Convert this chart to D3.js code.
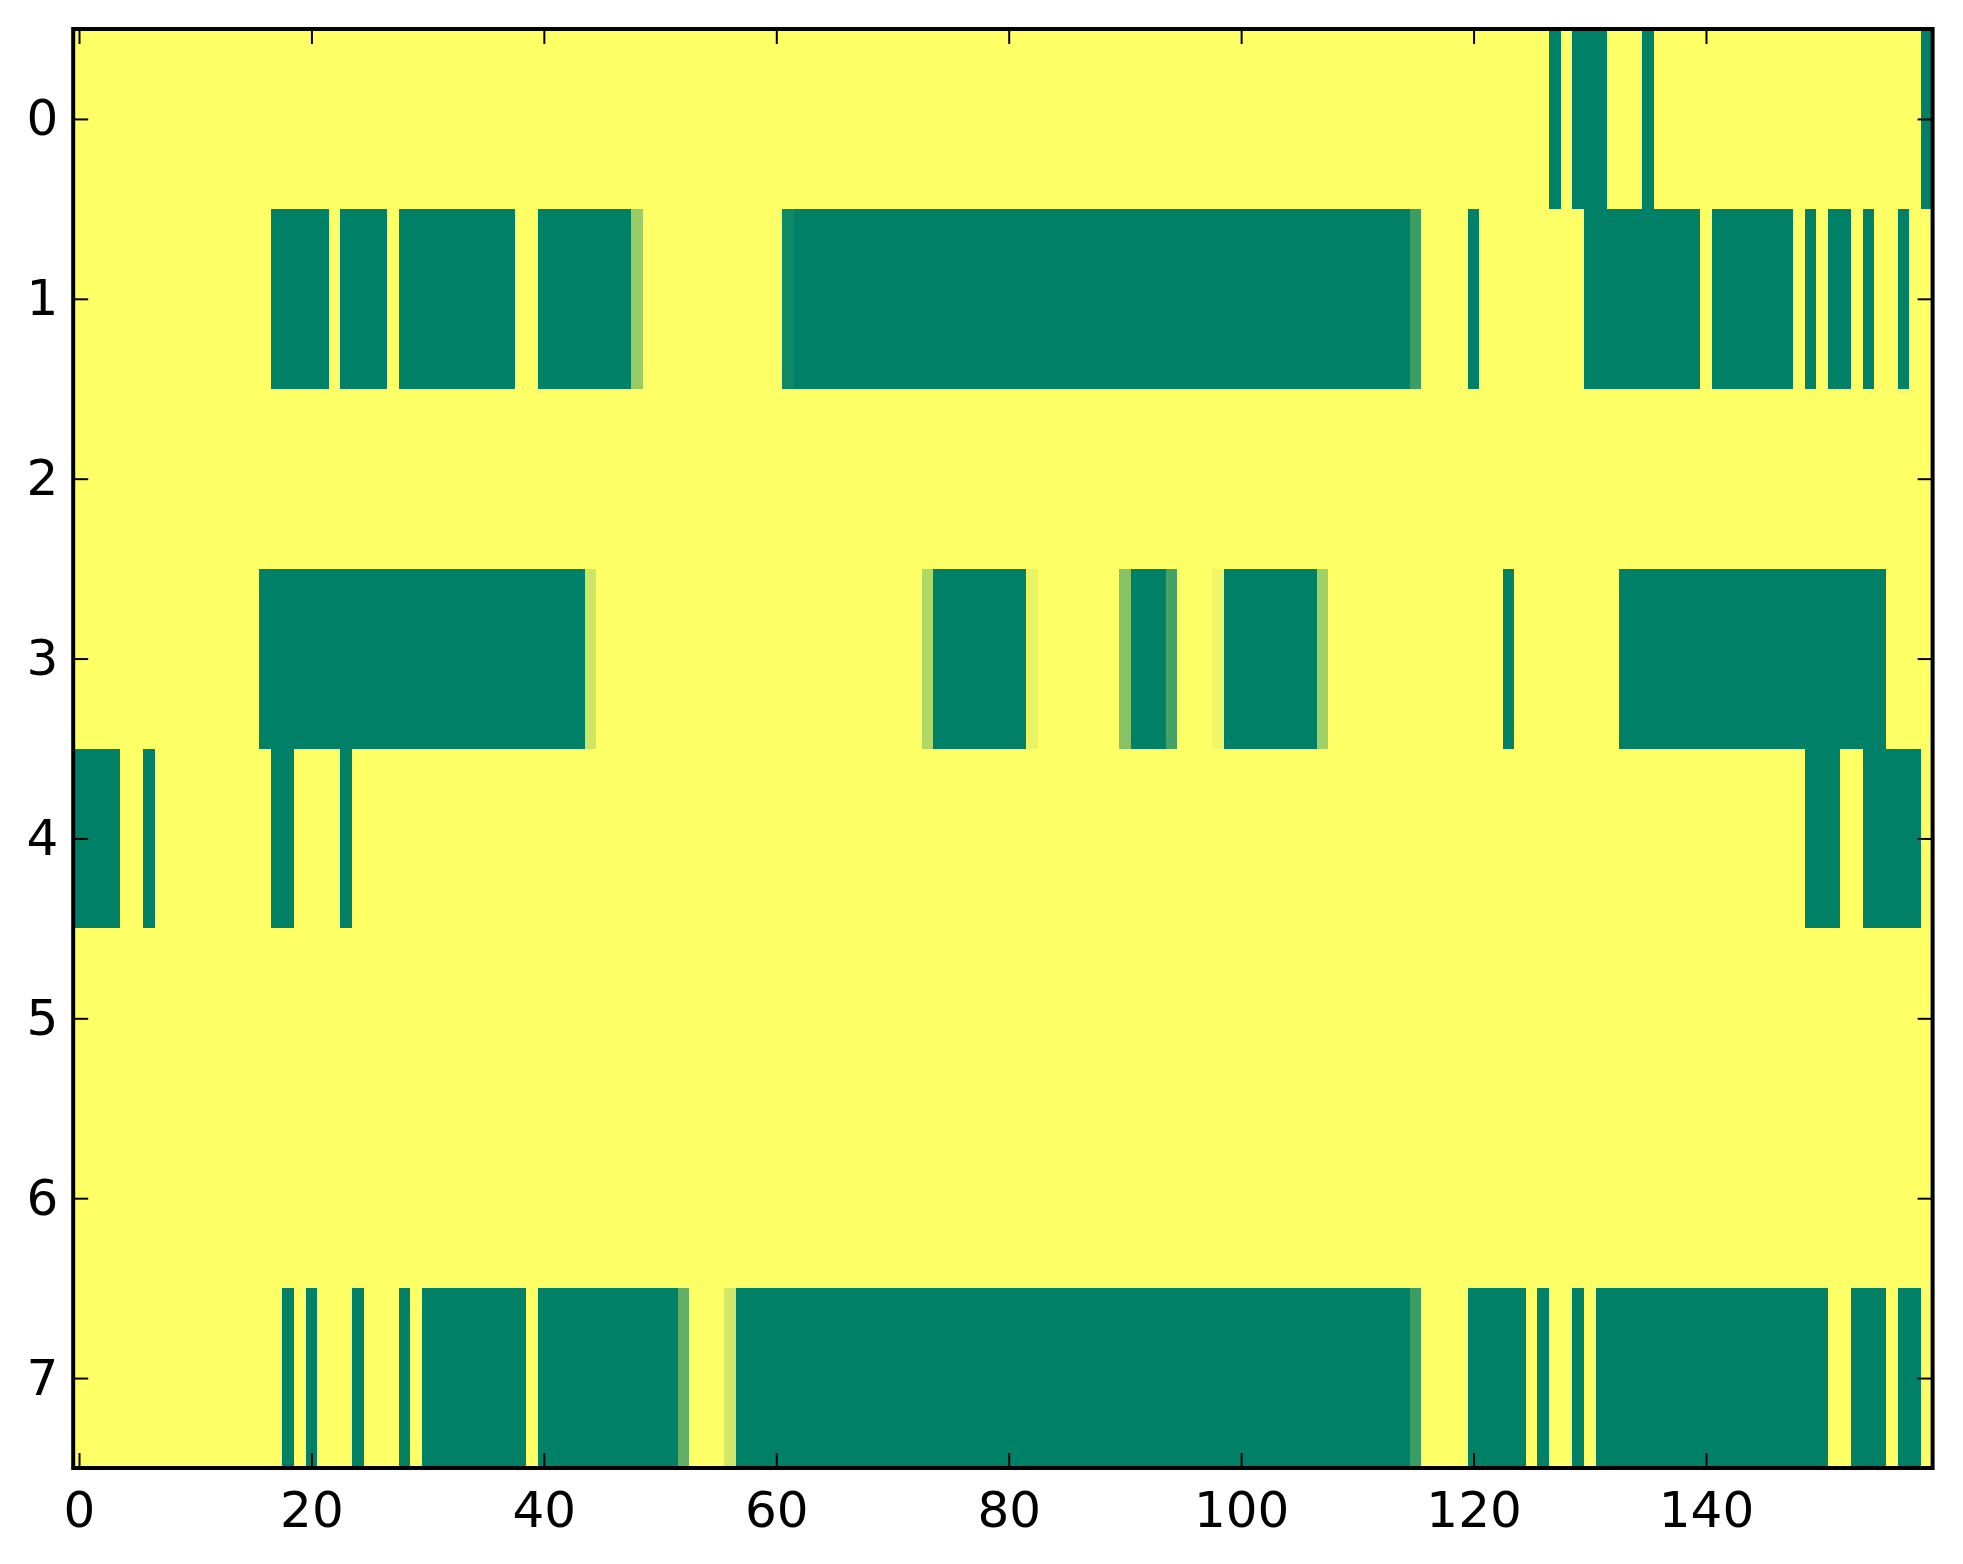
<!DOCTYPE html>
<html>
<head>
<meta charset="utf-8">
<script src="https://cdn.jsdelivr.net/npm/d3@7/dist/d3.min.js"></script>
<style>
	body { margin: 0; background: #fff; }
	svg { display: block; }
	text { font-family: "DejaVu Sans", sans-serif; }
</style>
</head>
<body>
<svg id="chart" width="1963" height="1564"></svg>
<script>
// grid is 8 rows x 160 columns, every cell is 1 (yellow) unless listed in a run below
var nCols = 160;
var rowLabels = [0, 1, 2, 3, 4, 5, 6, 7];
var xTicks = [0, 20, 40, 60, 80, 100, 120, 140];

// runs: [firstCol, lastCol, value]
var row0Runs = [[127, 127, 0], [129, 131, 0], [135, 135, 0], [159, 159, 0]];
var row1Runs = [[17, 21, 0], [23, 26, 0], [28, 37, 0], [40, 47, 0], [48, 48, 0.6],
	[61, 61, 0.06], [62, 114, 0], [115, 115, 0.23], [120, 120, 0], [130, 139, 0],
	[141, 147, 0], [149, 149, 0], [151, 152, 0], [154, 154, 0], [157, 157, 0]];
var row2Runs = [];
var row3Runs = [[16, 43, 0], [44, 44, 0.8], [73, 73, 0.69], [74, 81, 0], [82, 82, 0.91],
	[90, 90, 0.53], [91, 93, 0], [94, 94, 0.27], [98, 98, 0.94], [99, 106, 0],
	[107, 107, 0.63], [123, 123, 0], [133, 155, 0]];
var row4Runs = [[0, 3, 0], [6, 6, 0], [17, 18, 0], [23, 23, 0], [149, 151, 0], [154, 158, 0]];
var row5Runs = [];
var row6Runs = [];
var row7Runs = [[18, 18, 0], [20, 20, 0], [24, 24, 0], [28, 28, 0], [30, 38, 0], [40, 51, 0],
	[52, 52, 0.38], [56, 56, 0.82], [57, 114, 0], [115, 115, 0.23], [120, 124, 0],
	[126, 126, 0], [129, 129, 0], [131, 150, 0], [153, 155, 0], [157, 158, 0]];

var allRuns = [row0Runs, row1Runs, row2Runs, row3Runs, row4Runs, row5Runs, row6Runs, row7Runs];

var cells = [];
allRuns.forEach(function (runs, r) {
	var vals = d3.range(nCols).map(function () { return 1; });
	runs.forEach(function (run) {
		for (var c = run[0]; c <= run[1]; c++) vals[c] = run[2];
	});
	vals.forEach(function (v, c) { cells.push({ row: r, col: c, v: v }); });
});

var plot = { left: 73.2, right: 1932.6, top: 29, bottom: 1468 };

var x = d3.scaleLinear().domain([-0.5, nCols - 0.5]).range([plot.left, plot.right]);
var y = d3.scaleLinear().domain([-0.5, rowLabels.length - 0.5]).range([plot.top, plot.bottom]);
// matplotlib "summer": linear from green to yellow
var color = d3.scaleLinear().domain([0, 1]).range(["#008066", "#ffff66"]);

var svg = d3.select("#chart");

svg.append("g")
	.attr("shape-rendering", "crispEdges")
	.selectAll("rect")
	.data(cells)
	.enter().append("rect")
	.attr("x", function (d) { return x(d.col - 0.5); })
	.attr("y", function (d) { return y(d.row - 0.5); })
	.attr("width", x(1) - x(0) + 0.5)
	.attr("height", y(1) - y(0) + 0.5)
	.attr("fill", function (d) { return color(d.v); });

function styleAxis(g, labels) {
	g.select(".domain").remove();
	g.selectAll(".tick line").attr("stroke", "#000").attr("stroke-width", 2);
	g.selectAll(".tick text").attr("fill", "#000").style("font-size", "50px");
	if (!labels) g.selectAll(".tick text").remove();
}

svg.append("g")
	.attr("transform", "translate(0," + plot.bottom + ")")
	.call(d3.axisBottom(x).tickValues(xTicks).tickSizeInner(-15).tickSizeOuter(0).tickPadding(23))
	.call(styleAxis, true);

svg.append("g")
	.attr("transform", "translate(0," + plot.top + ")")
	.call(d3.axisTop(x).tickValues(xTicks).tickSizeInner(-15).tickSizeOuter(0))
	.call(styleAxis, false);

svg.append("g")
	.attr("transform", "translate(" + plot.left + ",0)")
	.call(d3.axisLeft(y).tickValues(rowLabels).tickSizeInner(-15).tickSizeOuter(0).tickPadding(15))
	.call(styleAxis, true);

svg.append("g")
	.attr("transform", "translate(" + plot.right + ",0)")
	.call(d3.axisRight(y).tickValues(rowLabels).tickSizeInner(-15).tickSizeOuter(0))
	.call(styleAxis, false);

svg.append("rect")
	.attr("x", plot.left)
	.attr("y", plot.top)
	.attr("width", plot.right - plot.left)
	.attr("height", plot.bottom - plot.top)
	.attr("fill", "none")
	.attr("stroke", "#000")
	.attr("stroke-width", 4);
</script>
</body>
</html>
